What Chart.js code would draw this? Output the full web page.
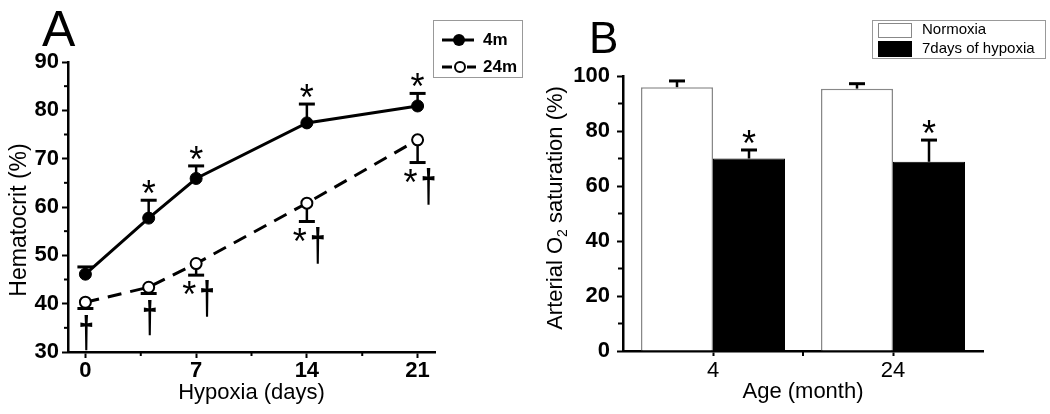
<!DOCTYPE html>
<html>
<head>
<meta charset="utf-8">
<script src="https://cdn.jsdelivr.net/npm/chart.js@4.4.0/dist/chart.umd.min.js"></script>
<style>
  html, body { margin: 0; padding: 0; background: #fff; }
  #wrap { position: relative; width: 1050px; height: 414px; }
  #boxA { position: absolute; left: 0; top: 0; width: 530px; height: 414px; }
  #boxB { position: absolute; left: 530px; top: 0; width: 520px; height: 414px; }
</style>
</head>
<body>
<div id="wrap">
  <div id="boxA"><canvas id="chartA"></canvas></div>
  <div id="boxB"><canvas id="chartB"></canvas></div>
</div>
<script>
const FONT = '"Liberation Sans", Arial, Helvetica, sans-serif';

// Panel A - hematocrit during hypoxia
const hypoxiaDays = [0, 4, 7, 14, 21];
const hct4m = [46.1, 57.7, 65.9, 77.4, 80.9];
const hct4mErr = [1.5, 3.7, 2.6, 3.9, 2.6];
const hct24m = [40.3, 43.4, 48.3, 60.8, 73.9];
const hct24mErr = [1.3, 1.3, 2.4, 3.8, 4.7];
const marks4m = ['', '*', '*', '*', '*'];
const marks24m = ['†', '†', '*†', '*†', '*†'];
const dayTicks = [0, 7, 14, 21];
const dayMinorTicks = [3.5, 10.5, 17.5];
const hctMinorTicks = [35, 45, 55, 65, 75, 85];

// Panel B - arterial O2 saturation
const ageGroups = ['4', '24'];
const satNormoxia = [95.9, 95.4];
const satNormoxiaErr = [2.3, 1.8];
const satHypoxia = [70.0, 68.8];
const satHypoxiaErr = [3.1, 7.9];
const marksNormoxia = ['', ''];
const marksHypoxia = ['*', '*'];
const satMinorTicks = [10, 30, 50, 70, 90];

function drawStar(ctx, x, yMid) {
  ctx.font = '36px ' + FONT;
  const m = ctx.measureText('*');
  const a = m.actualBoundingBoxAscent, d = m.actualBoundingBoxDescent;
  ctx.textAlign = 'center';
  ctx.textBaseline = 'alphabetic';
  ctx.fillText('*', x, yMid + (a - d) / 2);
}

function drawDagger(ctx, x, top, h) {
  ctx.font = 'bold 28px ' + FONT;
  const m = ctx.measureText('†');
  const a = m.actualBoundingBoxAscent, d = m.actualBoundingBoxDescent;
  ctx.save();
  ctx.translate(x, top);
  ctx.scale(1, h / (a + d));
  ctx.textAlign = 'center';
  ctx.textBaseline = 'alphabetic';
  ctx.fillText('†', 0, a);
  ctx.restore();
}

function valueOf(d) {
  return typeof d === 'object' ? d.y : d;
}

const minorTicks = {
  id: 'minorTicks',
  afterDraw(chart, args, opts) {
    const ctx = chart.ctx;
    ctx.save();
    ctx.strokeStyle = '#000';
    ctx.lineWidth = 2;
    (opts.x || []).forEach(v => {
      const s = chart.scales.x, px = s.getPixelForValue(v);
      ctx.beginPath(); ctx.moveTo(px, s.top); ctx.lineTo(px, s.top + opts.len); ctx.stroke();
    });
    (opts.y || []).forEach(v => {
      const s = chart.scales.y, py = s.getPixelForValue(v);
      ctx.beginPath(); ctx.moveTo(s.right, py); ctx.lineTo(s.right - opts.len, py); ctx.stroke();
    });
    ctx.restore();
  }
};

// error bars + significance marks
const errorBars = {
  id: 'errorBars',
  beforeDatasetsDraw(chart) {
    const ctx = chart.ctx, y = chart.scales.y;
    ctx.save();
    ctx.strokeStyle = '#000';
    chart.data.datasets.forEach((ds, i) => {
      const meta = chart.getDatasetMeta(i);
      const dir = ds.errDir || 1;
      meta.data.forEach((el, j) => {
        const v = valueOf(ds.data[j]);
        const y0 = y.getPixelForValue(v);
        const y1 = y.getPixelForValue(v + dir * ds.err[j]);
        ctx.lineWidth = 2.5;
        ctx.beginPath(); ctx.moveTo(el.x, y0); ctx.lineTo(el.x, y1); ctx.stroke();
        ctx.lineWidth = 3;
        ctx.beginPath(); ctx.moveTo(el.x - 8, y1); ctx.lineTo(el.x + 8, y1); ctx.stroke();
      });
    });
    ctx.restore();
  },
  afterDatasetsDraw(chart) {
    const ctx = chart.ctx, y = chart.scales.y;
    ctx.save();
    ctx.fillStyle = '#000';
    chart.data.datasets.forEach((ds, i) => {
      if (!ds.marks) return;
      const meta = chart.getDatasetMeta(i);
      const dir = ds.errDir || 1;
      meta.data.forEach((el, j) => {
        const mark = ds.marks[j];
        if (!mark) return;
        const v = valueOf(ds.data[j]);
        const cap = y.getPixelForValue(v + dir * ds.err[j]);
        if (dir > 0) {
          drawStar(ctx, el.x, cap - 13);
        } else if (mark === '†') {
          drawDagger(ctx, el.x + 1, cap + 6, 37);
        } else {
          drawStar(ctx, el.x - 7, cap + 13);
          drawDagger(ctx, el.x + 11, cap + 6, 38);
        }
      });
    });
    ctx.restore();
  }
};

const decorA = {
  id: 'decorA',
  afterDraw(chart) {
    const ctx = chart.ctx;
    ctx.save();
    ctx.fillStyle = '#000';
    ctx.font = '50px ' + FONT;
    ctx.textAlign = 'left';
    ctx.textBaseline = 'alphabetic';
    ctx.fillText('A', 42, 46);

    // y title
    ctx.save();
    ctx.translate(20, 220);
    ctx.rotate(-Math.PI / 2);
    ctx.font = '23px ' + FONT;
    ctx.textAlign = 'center';
    ctx.textBaseline = 'middle';
    ctx.fillText('Hematocrit (%)', 0, 0);
    ctx.restore();

    // legend
    ctx.strokeStyle = '#999';
    ctx.lineWidth = 1;
    ctx.strokeRect(433.5, 20.5, 89, 57);
    ctx.strokeStyle = '#000';
    ctx.lineWidth = 3;
    ctx.beginPath(); ctx.moveTo(442, 40); ctx.lineTo(474, 40); ctx.stroke();
    ctx.beginPath(); ctx.arc(459, 40, 6, 0, Math.PI * 2); ctx.fill();
    ctx.beginPath(); ctx.moveTo(442, 67); ctx.lineTo(452, 67); ctx.moveTo(467, 67); ctx.lineTo(476, 67); ctx.stroke();
    ctx.lineWidth = 2;
    ctx.fillStyle = '#fff';
    ctx.beginPath(); ctx.arc(460, 67, 5, 0, Math.PI * 2); ctx.fill(); ctx.stroke();
    ctx.fillStyle = '#000';
    ctx.font = 'bold 17px ' + FONT;
    ctx.textBaseline = 'middle';
    ctx.fillText('4m', 483, 40);
    ctx.fillText('24m', 483, 67);
    ctx.restore();
  }
};

const decorB = {
  id: 'decorB',
  afterDraw(chart) {
    const ctx = chart.ctx;
    ctx.save();
    ctx.fillStyle = '#000';
    ctx.font = '44px ' + FONT;
    ctx.textAlign = 'left';
    ctx.textBaseline = 'alphabetic';
    ctx.fillText('B', 59, 53);

    // y title with subscript
    ctx.save();
    ctx.translate(26, 208);
    ctx.rotate(-Math.PI / 2);
    ctx.textBaseline = 'middle';
    ctx.textAlign = 'left';
    const p1 = 'Arterial O', sub = '2', p2 = ' saturation (%)';
    ctx.font = '22px ' + FONT;
    const w1 = ctx.measureText(p1).width, w2 = ctx.measureText(p2).width;
    ctx.font = '14px ' + FONT;
    const ws = ctx.measureText(sub).width;
    let x = -(w1 + ws + w2) / 2;
    ctx.font = '22px ' + FONT;
    ctx.fillText(p1, x, 0);
    x += w1;
    ctx.font = '14px ' + FONT;
    ctx.fillText(sub, x, 7);
    x += ws;
    ctx.font = '22px ' + FONT;
    ctx.fillText(p2, x, 0);
    ctx.restore();

    // legend
    ctx.strokeStyle = '#999';
    ctx.lineWidth = 1;
    ctx.strokeRect(342.5, 20.5, 173, 38);
    ctx.fillStyle = '#fff';
    ctx.strokeStyle = '#888';
    ctx.fillRect(348, 23, 34, 15);
    ctx.strokeRect(348.5, 23.5, 33, 14);
    ctx.fillStyle = '#000';
    ctx.fillRect(348, 41, 34, 16);
    ctx.font = '15px ' + FONT;
    ctx.textBaseline = 'middle';
    ctx.fillText('Normoxia', 392, 30);
    ctx.fillText('7days of hypoxia', 392, 49);
    ctx.restore();
  }
};

const axisGrid = { drawOnChartArea: false, tickWidth: 2, tickColor: '#000' };
const axisBorder = { color: '#000', width: 2.5 };
const boldTicks = { family: FONT, size: 22, weight: 'bold' };

new Chart(document.getElementById('chartA'), {
  type: 'line',
  data: {
    datasets: [
      {
        label: '4m',
        data: hypoxiaDays.map((d, i) => ({ x: d, y: hct4m[i] })),
        err: hct4mErr, errDir: 1, marks: marks4m,
        borderColor: '#000', borderWidth: 3, tension: 0,
        pointRadius: 6, pointBackgroundColor: '#000', pointBorderColor: '#000', pointBorderWidth: 1
      },
      {
        label: '24m',
        data: hypoxiaDays.map((d, i) => ({ x: d, y: hct24m[i] })),
        err: hct24mErr, errDir: -1, marks: marks24m,
        borderColor: '#000', borderWidth: 3, borderDash: [14, 9], tension: 0,
        pointRadius: 5.5, pointBackgroundColor: '#fff', pointBorderColor: '#000', pointBorderWidth: 2
      }
    ]
  },
  options: {
    responsive: true,
    maintainAspectRatio: false,
    animation: false,
    layout: { padding: { left: 0, right: 95, top: 62, bottom: 0 } },
    plugins: {
      legend: { display: false },
      tooltip: { enabled: false },
      minorTicks: { x: dayMinorTicks, y: hctMinorTicks, len: 4 }
    },
    scales: {
      x: {
        type: 'linear', min: -1.1, max: 22.1,
        afterBuildTicks: s => { s.ticks = dayTicks.map(v => ({ value: v })); },
        afterFit: s => { s.height = 62; },
        grid: { ...axisGrid, tickLength: 6 },
        border: axisBorder,
        ticks: { color: '#000', padding: 0, font: boldTicks },
        title: { display: true, text: 'Hypoxia (days)', color: '#000', font: { family: FONT, size: 22 }, padding: { top: 0, bottom: 8 } }
      },
      y: {
        min: 30, max: 90,
        afterFit: s => { s.width = 68; },
        grid: { ...axisGrid, tickLength: 6 },
        border: axisBorder,
        ticks: { stepSize: 10, color: '#000', padding: 3, font: boldTicks }
      }
    }
  },
  plugins: [minorTicks, errorBars, decorA]
});

new Chart(document.getElementById('chartB'), {
  type: 'bar',
  data: {
    labels: ageGroups,
    datasets: [
      {
        label: 'Normoxia', data: satNormoxia, err: satNormoxiaErr, marks: marksNormoxia,
        backgroundColor: '#fff', borderColor: '#888', borderWidth: 1.5
      },
      {
        label: '7days of hypoxia', data: satHypoxia, err: satHypoxiaErr, marks: marksHypoxia,
        backgroundColor: '#000', borderColor: '#000', borderWidth: 1
      }
    ]
  },
  options: {
    responsive: true,
    maintainAspectRatio: false,
    animation: false,
    categoryPercentage: 0.8,
    barPercentage: 1.0,
    layout: { padding: { left: 0, right: 67, top: 76, bottom: 0 } },
    plugins: {
      legend: { display: false },
      tooltip: { enabled: false },
      minorTicks: { x: [0.5], y: satMinorTicks, len: 5 }
    },
    scales: {
      x: {
        afterFit: s => { s.height = 63; },
        grid: { ...axisGrid, offset: false, tickLength: 5 },
        border: axisBorder,
        ticks: { color: '#000', padding: 2, font: { family: FONT, size: 22 } },
        title: { display: true, text: 'Age (month)', color: '#000', font: { family: FONT, size: 22 }, padding: { top: 0, bottom: 9 } }
      },
      y: {
        min: 0, max: 100,
        afterFit: s => { s.width = 93; },
        grid: { ...axisGrid, tickLength: 6 },
        border: axisBorder,
        ticks: { stepSize: 20, color: '#000', padding: 7, font: boldTicks }
      }
    }
  },
  plugins: [minorTicks, errorBars, decorB]
});
</script>
</body>
</html>
